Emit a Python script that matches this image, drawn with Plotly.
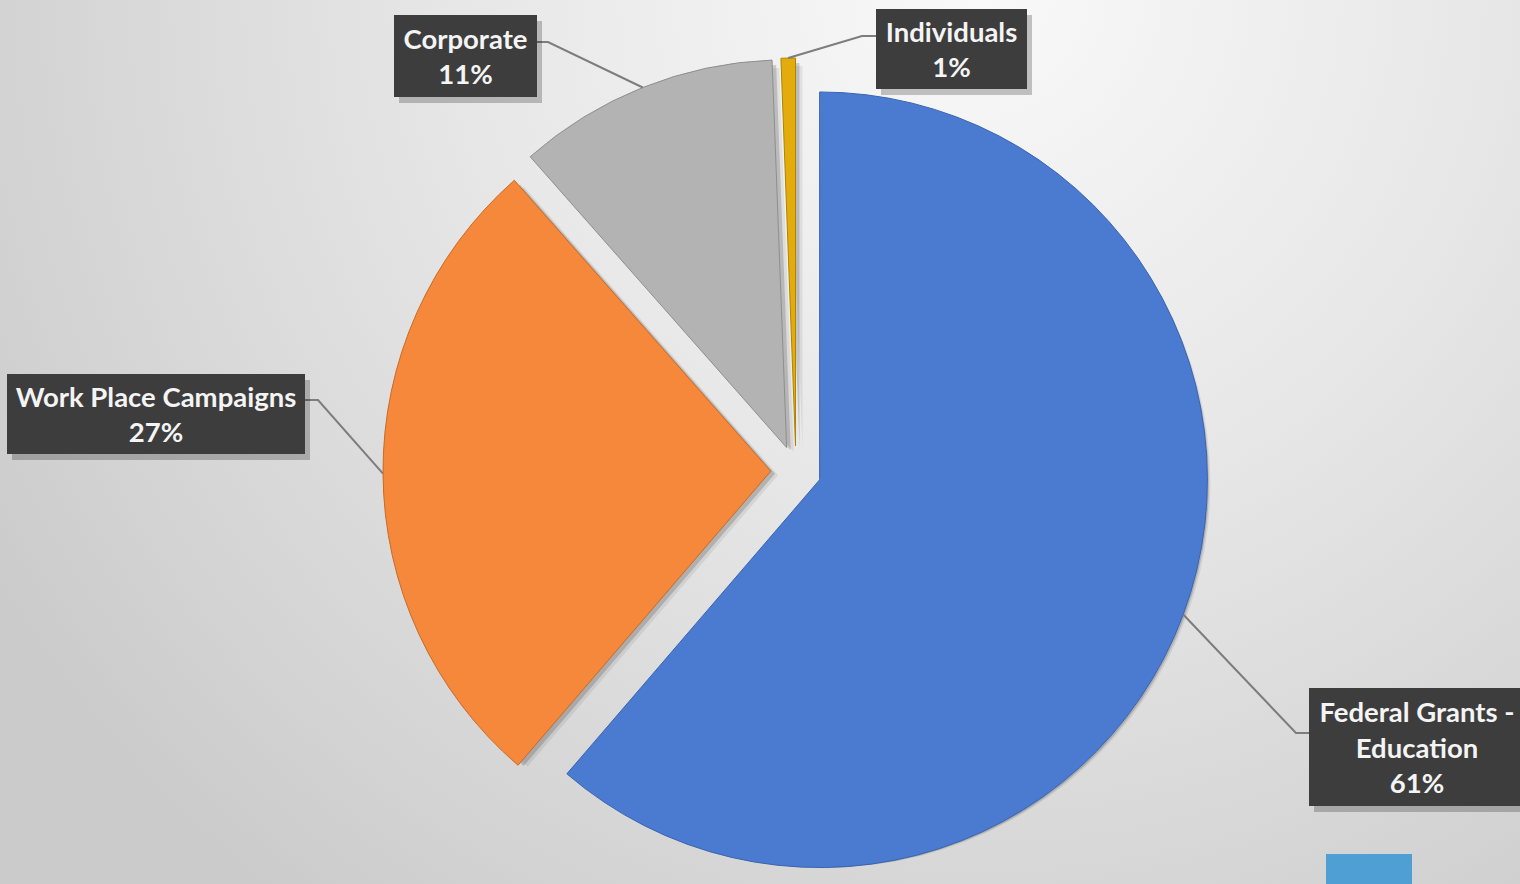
import base64
import math
import plotly.graph_objects as go

# ---------------- data ----------------
categories = ["Federal Grants - Education", "Work Place Campaigns", "Corporate", "Individuals"]
box_names = ["Federal Grants -<br>Education", "Work Place Campaigns", "Corporate", "Individuals"]
values = [61.3, 27.2, 10.9, 0.6]
slice_colors = ["#4A7BD0", "#F5883A", "#B3B3B3", "#E2AC0C"]
edge_colors = ["#3A64B0", "#C86A26", "#8E8E8E", "#B08400"]

# ---------------- geometry / layout constants ----------------
W, H = 1520, 884
PULL = 0.065
TOP_PX = 58                       # top of pie box in px
CX_PX = 796                       # centre of pie box in px
BOX_W = 900
dom_x = [(CX_PX - BOX_W / 2) / W, (CX_PX + BOX_W / 2) / W]
dom_y = [0, 1 - TOP_PX / H]
box_h = H - TOP_PX
CY_PX = TOP_PX + box_h / 2
R = min(BOX_W, box_h) / 2 / (1 + PULL)


def px(x, y):
    return x / W, 1 - y / H


# background gradient (svg data uri)
svg = (
    '<svg xmlns="http://www.w3.org/2000/svg" width="1520" height="884" viewBox="0 0 1520 884" '
    'preserveAspectRatio="none"><defs><radialGradient id="g" gradientUnits="userSpaceOnUse" '
    'cx="980" cy="-10" r="1150"><stop offset="0" stop-color="#f9f9f9"/>'
    '<stop offset="0.45" stop-color="#e7e7e7"/><stop offset="0.85" stop-color="#d3d3d3"/>'
    '<stop offset="1" stop-color="#cbcbcb"/></radialGradient></defs>'
    '<rect width="1520" height="884" fill="url(#g)"/></svg>'
)
bg_uri = "data:image/svg+xml;base64," + base64.b64encode(svg.encode()).decode()

fig = go.Figure()

# soft drop shadows of the pie
for (ox, oy, a) in [(7, 8, 0.07), (4, 5, 0.16)]:
    fig.add_trace(go.Pie(
        labels=categories, values=values, sort=False, direction="clockwise", rotation=0,
        pull=[PULL] * len(values),
        marker=dict(colors=[f"rgba(0,0,0,{a})"] * len(values), line=dict(width=0)),
        textinfo="none", hoverinfo="skip", showlegend=False,
        domain=dict(x=[dom_x[0] + ox / W, dom_x[1] + ox / W], y=[dom_y[0], dom_y[1] - oy / H]),
    ))

fig.add_trace(go.Pie(
    labels=categories, values=values, sort=False, direction="clockwise", rotation=0,
    pull=[PULL] * len(values),
    marker=dict(colors=slice_colors, line=dict(color=edge_colors, width=1)),
    textinfo="none", hoverinfo="label+percent", showlegend=False,
    domain=dict(x=dom_x, y=dom_y),
))

# ---------------- labels with leader lines ----------------
total = sum(values)
pcts = [round(v / total * 100) for v in values]

# label box placement (px): centre x, centre y, width, height, elbow x, box edge x
label_boxes = [
    (1417, 747, 216, 118, 1296, 1309),
    (156, 414, 298, 80, 318, 305),
    (465.5, 56, 143, 82, 548, 537),
    (951.5, 49, 151, 80, 862, 876),
]
elbow_y = [733, 400, 42, 36]

shapes = []
annotations = []
cum = 0.0
for i, v in enumerate(values):
    mid = math.radians(360 * (cum + v / 2) / total)
    cum += v
    dx, dy = math.sin(mid), -math.cos(mid)
    tip_x = CX_PX + (PULL * R + R) * dx
    tip_y = CY_PX + (PULL * R + R) * dy
    bx, by, bw, bh, ex, edge = label_boxes[i]
    p0 = px(tip_x, tip_y)
    p1 = px(ex, elbow_y[i])
    p2 = px(edge, elbow_y[i])
    shapes.append(dict(type="path", xref="paper", yref="paper",
                       path=f"M {p0[0]},{p0[1]} L {p1[0]},{p1[1]} L {p2[0]},{p2[1]}",
                       line=dict(color="#7d7d7d", width=2)))
    # shadow
    sx, sy = px(bx + 5, by + 6)
    annotations.append(dict(xref="paper", yref="paper", x=sx, y=sy, xanchor="center", yanchor="middle",
                            text="", showarrow=False, width=bw, height=bh,
                            bgcolor="rgba(0,0,0,0.22)", borderpad=0, borderwidth=0))
    cx_, cy_ = px(bx, by)
    annotations.append(dict(xref="paper", yref="paper", x=cx_, y=cy_, xanchor="center", yanchor="middle",
                            text=f"<b>{box_names[i]}<br>{pcts[i]}%</b>", showarrow=False,
                            width=bw, height=bh, bgcolor="#3d3d3d", borderpad=0, borderwidth=0,
                            font=dict(family="Lato, Open Sans, sans-serif", size=27.5, color="#f4f4f4")))

# slide-number tab at bottom right
shapes.append(dict(type="rect", xref="paper", yref="paper", x0=1326 / W, x1=1412 / W,
                   y0=-0.05, y1=1 - 854 / H, fillcolor="#4F9ED4", line=dict(width=0)))

fig.update_layout(
    width=W, height=H, autosize=False,
    margin=dict(l=0, r=0, t=0, b=0),
    paper_bgcolor="#dedede",
    images=[dict(source=bg_uri, xref="paper", yref="paper", x=0, y=1, sizex=1, sizey=1,
                 xanchor="left", yanchor="top", sizing="stretch", layer="below")],
    shapes=shapes,
    annotations=annotations,
    showlegend=False,
)

fig.write_html("out.html", config={"displayModeBar": False},
               post_script="document.body.style.margin='0';document.body.style.overflow='hidden';")
